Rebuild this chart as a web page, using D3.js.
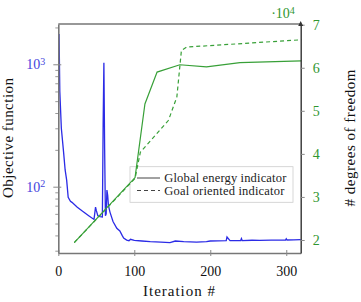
<!DOCTYPE html>
<html>
<head>
  <meta charset="UTF-8">
  <script src="https://d3js.org/d3.v7.min.js"></script>
  <style>
    body { margin: 0; background: #fff; font-family: 'Liberation Serif', serif; }
    svg, svg text { font-family: 'Liberation Serif', serif; }
  </style>
</head>
<body>
  <svg id="chart" width="361" height="302" style="font-family:'Liberation Serif', serif"></svg>
  <script>
    // objective function per iteration
    const objIter = [1, 2, 4, 7, 9, 11, 13, 16, 18, 25, 32, 40, 47, 49, 50, 52, 55, 58, 59, 60, 61, 62, 63, 64, 65, 66, 68, 72, 77, 81, 84, 86, 90, 93, 95, 100, 110, 121, 135, 147, 154, 165, 182, 195, 200, 210, 221, 222, 226, 240, 241, 242, 255, 265, 280, 299, 300, 301, 310, 319];
    const objValue = [1770, 600, 300, 190, 137, 113, 82, 76, 74.5, 68, 63, 58, 54, 68, 64, 58, 57, 56.5, 320, 1030, 200, 58, 60, 94, 85, 70, 62, 52, 45.7, 43.5, 40, 38, 36.6, 36.2, 37.2, 36.4, 36, 35.6, 35.3, 34.9, 36, 35.6, 35.3, 35.6, 36, 36.1, 36.2, 38.8, 36.2, 36.3, 37.7, 36.3, 36.5, 36.4, 36.6, 36.7, 37.6, 36.7, 36.8, 36.9];

    // degrees of freedom, global energy indicator
    const globalIter = [21, 101, 114, 130, 160, 195, 239, 320];
    const globalDofs = [19400, 34500, 51600, 59000, 60700, 60200, 61200, 61600];

    // degrees of freedom, goal oriented indicator
    const goalIter = [21, 101, 108, 145, 156, 162, 169, 320];
    const goalDofs = [19400, 34300, 40400, 47800, 53200, 64000, 64800, 66500];

    const xTicks = [0, 100, 200, 300];
    const objTicks = [100, 1000];
    const objMinorTicks = [30, 40, 50, 60, 70, 80, 90, 200, 300, 400, 500, 600, 700, 800, 900, 2000];
    const dofTicks = [20000, 30000, 40000, 50000, 60000, 70000];

    const blue = "#2b2be6", blueText = "#4444dd";
    const green = "#38a038", greenText = "#2f962f";
    const serif = "'Liberation Serif', serif";

    const plot = { left: 58.3, right: 300.7, top: 24, bottom: 253 };

    const svg = d3.select("#chart");

    const x = d3.scaleLinear().domain([0, 319]).range([plot.left, plot.right]);
    const yObj = d3.scaleLog().domain([28.73, 2134]).range([plot.bottom, plot.top]);
    const yDof = d3.scaleLinear().domain([16980, 70160]).range([plot.bottom, plot.top]);

    // legend (drawn first, the curves pass over it)
    const legendNames = ["Global energy indicator", "Goal oriented indicator"];
    const legendDash = [null, "4,3"];
    const lg = svg.append("g");
    lg.append("rect").attr("x", 130).attr("y", 166.7).attr("width", 163).attr("height", 35.6)
      .attr("fill", "#fff").attr("stroke", "#ccc").attr("stroke-width", 0.8);
    legendNames.forEach((name, i) => {
      const cy = 178 + i * 12.5;
      lg.append("line").attr("x1", 137).attr("x2", 160).attr("y1", cy).attr("y2", cy)
        .attr("stroke", "#444").attr("stroke-width", 1).attr("stroke-dasharray", legendDash[i]);
      lg.append("text").attr("x", 164.3).attr("y", cy).attr("dy", "0.33em")
        .attr("font-size", 12.5).attr("fill", "#222").attr("textLength", i === 0 ? 122 : 120)
        .text(name);
    });

    // lines
    const objLine = d3.line().x(d => x(d[0])).y(d => yObj(d[1]));
    const dofLine = d3.line().x(d => x(d[0])).y(d => yDof(d[1]));

    svg.append("path").datum(d3.zip(objIter, objValue))
      .attr("d", objLine).attr("fill", "none").attr("stroke", blue).attr("stroke-width", 1.3);

    svg.append("path").datum(d3.zip(globalIter, globalDofs))
      .attr("d", dofLine).attr("fill", "none").attr("stroke", green).attr("stroke-width", 1.2);
    svg.append("path").datum(d3.zip(goalIter, goalDofs))
      .attr("d", dofLine).attr("fill", "none").attr("stroke", green).attr("stroke-width", 1.2)
      .attr("stroke-dasharray", "4,3");

    // frame: top
    svg.append("line").attr("x1", plot.left).attr("x2", plot.right).attr("y1", plot.top).attr("y2", plot.top)
      .attr("stroke", "#333").attr("stroke-width", 1.2);

    // bottom axis
    const gx = svg.append("g").attr("transform", `translate(0,${plot.bottom})`)
      .call(d3.axisBottom(x).tickValues(xTicks).tickSize(3).tickSizeOuter(0));
    gx.select(".domain").attr("stroke", "#777").attr("stroke-width", 1.6);
    gx.selectAll(".tick line").attr("stroke", "#888").attr("y1", -3);
    gx.selectAll("text").attr("y", 13.4).attr("font-size", 14).attr("fill", "#111");

    // left log axis
    const gyMinor = svg.append("g").attr("transform", `translate(${plot.left},0)`)
      .call(d3.axisLeft(yObj).tickValues(objMinorTicks).tickSize(3).tickFormat(() => ""));
    gyMinor.select(".domain").remove();
    gyMinor.selectAll(".tick line").attr("stroke", "#999");

    const gy = svg.append("g").attr("transform", `translate(${plot.left},0)`)
      .call(d3.axisLeft(yObj).tickValues(objTicks).tickSize(5).tickSizeOuter(0).tickFormat(() => ""));
    gy.select(".domain").attr("stroke", "#777").attr("stroke-width", 1.6);
    gy.selectAll(".tick line").attr("stroke", "#888").attr("x2", 3).attr("x1", -5);
    gy.selectAll(".tick text").remove();
    gy.selectAll(".tick").append("text")
      .attr("x", -13).attr("dy", "0.32em").attr("text-anchor", "end")
      .attr("font-size", 14).attr("fill", blueText)
      .each(function (d) {
        const t = d3.select(this);
        t.append("tspan").text("10");
        t.append("tspan").attr("dy", "-0.45em").attr("font-size", 10).text(Math.round(Math.log10(d)));
      });

    // right axis
    const gr = svg.append("g").attr("transform", `translate(${plot.right},0)`)
      .call(d3.axisRight(yDof).tickValues(dofTicks).tickSize(4).tickSizeOuter(0).tickFormat(d => d / 10000));
    gr.select(".domain").attr("stroke", "#333").attr("stroke-width", 1.4);
    gr.selectAll(".tick line").attr("stroke", "#888");
    gr.selectAll("text").attr("x", 12).attr("font-size", 14).attr("fill", greenText);
    svg.append("path").attr("d", `M${plot.right - 2.5},${plot.top + 2} L${plot.right},${plot.top - 3} L${plot.right + 2.5},${plot.top + 2} Z`)
      .attr("fill", "#333");

    // scale label
    const sc = svg.append("text").attr("x", 283).attr("y", 18).attr("text-anchor", "middle")
      .attr("font-size", 14).attr("fill", greenText);
    sc.append("tspan").text("·10");
    sc.append("tspan").attr("dy", "-0.45em").attr("font-size", 10).text("4");

    // axis titles
    svg.append("text").attr("x", 179).attr("y", 296).attr("text-anchor", "middle")
      .attr("font-size", 15).attr("fill", "#111").attr("textLength", 72).text("Iteration #");
    svg.append("text").attr("transform", "translate(8,138) rotate(-90)")
      .attr("text-anchor", "middle").attr("dominant-baseline", "central")
      .attr("font-size", 15).attr("fill", "#111").attr("textLength", 120).text("Objective function");
    svg.append("text").attr("transform", "translate(350,138) rotate(-90)")
      .attr("text-anchor", "middle").attr("dominant-baseline", "central")
      .attr("font-size", 15).attr("fill", "#111").attr("textLength", 137).text("# degrees of freedom");

    // every text in serif
    svg.selectAll("g").attr("font-family", serif);
    svg.selectAll("text").style("font-family", serif);
  </script>
</body>
</html>
